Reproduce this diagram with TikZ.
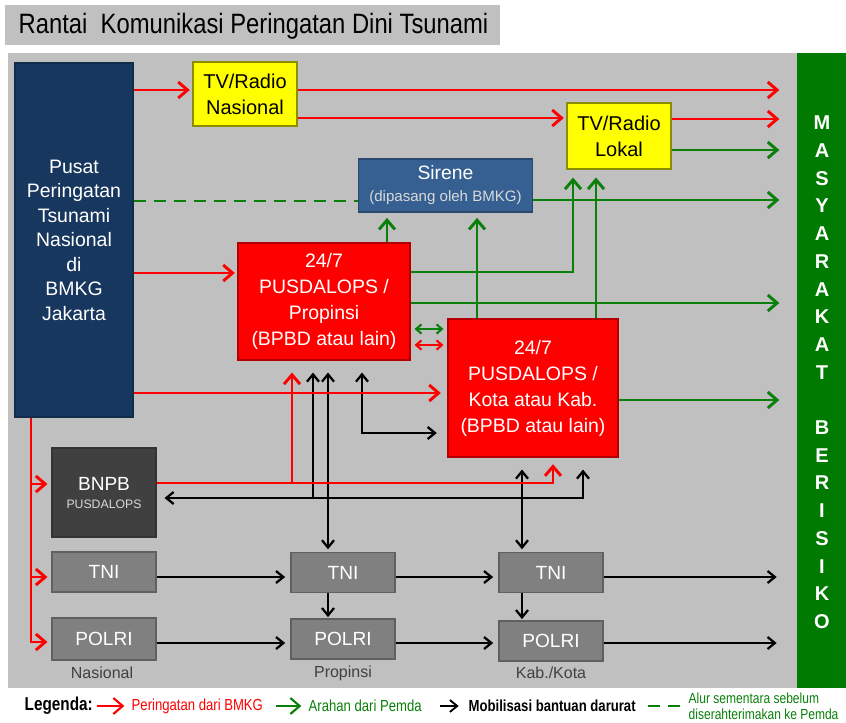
\documentclass[tikz,border=0pt]{standalone}
\usepackage{fontspec}
\setmainfont{Liberation Sans}
\newfontfamily\narrowfont[FakeStretch=0.82]{Liberation Sans}
\newfontfamily\titlefont[FakeStretch=0.85]{Liberation Sans}
\usetikzlibrary{arrows.meta, positioning, calc}

\definecolor{panelgray}{RGB}{192,192,192}
\definecolor{bmkgblue}{RGB}{23,55,94}
\definecolor{sireneblue}{RGB}{54,96,146}
\definecolor{tvyellow}{RGB}{255,255,0}
\definecolor{pusred}{RGB}{255,0,0}
\definecolor{darkbox}{RGB}{64,64,64}
\definecolor{midbox}{RGB}{128,128,128}
\definecolor{pemdagreen}{RGB}{10,128,10}
\definecolor{bargreen}{RGB}{0,122,0}
\definecolor{subgray}{RGB}{217,217,217}

\tikzset{
    box/.style={rectangle, inner sep=0pt, align=center, line width=0.8pt},
    boxB/.style={box, fill=bmkgblue, draw=bmkgblue!80!black, text=white},
    boxS/.style={box, fill=sireneblue, draw=sireneblue!75!black, text=white},
    boxY/.style={box, fill=tvyellow, draw=tvyellow!55!black, text=black, minimum width=78pt,
        font=\fontsize{15}{19.5}\selectfont},
    boxR/.style={box, fill=pusred, draw=pusred!70!black, text=white,
        font=\fontsize{14.6}{19.5}\selectfont},
    boxD/.style={box, fill=darkbox, draw=darkbox!80!black, text=white, minimum width=78pt},
    boxM/.style={box, fill=midbox, draw=midbox!75!black, text=white, minimum width=78pt,
        minimum height=30pt, font=\fontsize{14.3}{16}\selectfont},
    lvl/.style={text=darkbox, font=\fontsize{12}{14}\selectfont},
    lineR/.style={draw=pusred, line width=2.2pt, >={Straight Barb[length=7pt,width=12pt]}, ->, shorten >=2pt},
    lineG/.style={draw=pemdagreen, line width=2.2pt, >={Straight Barb[length=7pt,width=12pt]}, ->, shorten >=2pt},
    lineK/.style={draw=black, line width=1.7pt, >={Straight Barb[length=5.5pt,width=9pt]}, ->, shorten >=4pt},
    lineD/.style={draw=pemdagreen, line width=2.2pt, dash pattern=on 9pt off 6pt},
    lineS/.style={line width=1.6pt, >={Straight Barb[length=4pt,width=7pt]}, <->, shorten >=3pt, shorten <=3pt},
    legtxt/.style={anchor=west, font=\narrowfont\fontsize{12}{12}\selectfont}
}

\begin{document}
\begin{tikzpicture}[x=0.75pt, y=-0.75pt]
    \useasboundingbox (0,0) rectangle (846,722);
    \fill[white] (0,0) rectangle (846,722);
    % title and background
    \fill[panelgray] (5,5) rectangle (500,45);
    \node[anchor=west, font=\titlefont\fontsize{21}{24}\selectfont] (title) at (14,26)
        {Rantai\ \ Komunikasi Peringatan Dini Tsunami};
    \fill[panelgray] (8,53) rectangle (797,688);
    \fill[bargreen] (797,53) rectangle (846,688);
    \foreach \ch [count=\i from 0] in {M,A,S,Y,A,R,A,K,A,T,{},B,E,R,I,S,I,K,O}
        \node[text=white, font=\bfseries\fontsize{15}{15}\selectfont] (ms\i) at (822,123+27.7*\i) {\ch};
    \coordinate (edge) at (782,0);
    \coordinate (nbus) at (31,0);

    % boxes
    \node[boxB, minimum width=88.5pt, minimum height=265.5pt, font=\fontsize{14.6}{18.4}\selectfont]
        (bmkg) at (74,240) {Pusat\\Peringatan\\Tsunami\\Nasional\\di\\BMKG\\Jakarta};
    \node[boxY, minimum height=48pt] (tvnas) at (245,94) {TV/Radio\\Nasional};
    \node[boxY, minimum height=49.5pt] (tvlok) at (619,136) {TV/Radio\\Lokal};
    \node[boxS, minimum width=131pt, minimum height=39.75pt, font=\fontsize{14.5}{16.5}\selectfont]
        (sirene) at (445.5,185.5) {Sirene\\{\fontsize{11.3}{16.5}\selectfont\color{subgray}(dipasang oleh BMKG)}};
    \node[boxR, minimum width=129pt, minimum height=87.75pt] (prop) at (324,301.5)
        {24/7\\PUSDALOPS /\\Propinsi\\(BPBD atau lain)};
    \node[boxR, minimum width=127.5pt, minimum height=103.5pt] (kota) at (533,388)
        {24/7\\PUSDALOPS /\\Kota atau Kab.\\(BPBD atau lain)};
    \node[boxD, minimum height=66.75pt, font=\fontsize{14.3}{13.5}\selectfont] (bnpb) at (104,492.5)
        {BNPB\\{\fontsize{9.2}{13.5}\selectfont\color{subgray}PUSDALOPS}};
    \node[boxM] (tni1) at (104,572) {TNI};
    \node[boxM, minimum height=31.5pt] (polri1) at (104,639) {POLRI};
    \node[boxM] (tni2) at (343,572.5) {TNI};
    \node[boxM] (polri2) at (343,639) {POLRI};
    \node[boxM] (tni3) at (551,572.5) {TNI};
    \node[boxM] (polri3) at (551,641) {POLRI};
    \node[lvl] (lnas) at (102,673) {Nasional};
    \node[lvl] (lprop) at (343,673) {Propinsi};
    \node[lvl] (lkab) at (551,673) {Kab./Kota};

    % black: mobilisasi
    \draw[lineK] (tni1.east |- 0,577) -- (tni2.west |- 0,577);
    \draw[lineK] (tni2.east |- 0,577) -- (tni3.west |- 0,577);
    \draw[lineK] (tni3.east |- 0,577) -- (edge |- 0,577);
    \draw[lineK] (polri1.east |- 0,643) -- (polri2.west |- 0,643);
    \draw[lineK] (polri2.east |- 0,643) -- (polri3.west |- 0,643);
    \draw[lineK] (polri3.east |- 0,643) -- (edge |- 0,643);
    \draw[lineK, shorten >=1pt] (tni2.south -| 328,0) -- (polri2.north -| 328,0);
    \draw[lineK, shorten >=1pt] (tni3.south -| 522,0) -- (polri3.north -| 522,0);
    \draw[lineK, <->, shorten <=9pt, shorten >=2pt] (prop.south -| 328,0) -- (tni2.north -| 328,0);
    \draw[lineK, <->, shorten <=9pt, shorten >=2pt] (kota.south -| 522,0) -- (tni3.north -| 522,0);
    \draw[lineK, <->, shorten <=9pt, shorten >=6pt] (kota.south -| 583,0) |- (bnpb.east |- 0,498);
    \draw[lineK, shorten >=9pt] (313,498) -- (prop.south -| 313,0);
    \draw[lineK, <->, shorten <=9pt, shorten >=8pt] (prop.south -| 362,0) |- (kota.west |- 0,433);

    % red: peringatan
    \draw[lineR] (bmkg.east |- 0,90) -- (tvnas.west |- 0,90);
    \draw[lineR] (tvnas.east |- 0,90) -- (edge |- 0,90);
    \draw[lineR] (tvnas.east |- 0,118) -- (tvlok.west |- 0,118);
    \draw[lineR] (tvlok.east |- 0,119) -- (edge |- 0,119);
    \draw[lineR] (bmkg.east |- 0,273) -- (prop.west |- 0,273);
    \draw[lineR, shorten >=5pt] (bmkg.east |- 0,393) -- (kota.west |- 0,393);
    \draw[lineR, shorten >=3pt] (bmkg.south -| nbus) |- (polri1.west |- 0,642);
    \draw[lineR, shorten >=3pt] (nbus |- 0,484) -- (bnpb.west |- 0,484);
    \draw[lineR, shorten >=3pt] (nbus |- 0,577) -- (tni1.west |- 0,577);
    \draw[lineR, shorten >=5pt] (bnpb.east |- 0,483) -| (kota.south -| 553,0);
    \draw[lineR, shorten >=9pt] (292,483) -- (prop.south -| 292,0);
    \draw[lineS, draw=pusred] (prop.east |- 0,345) -- (kota.west |- 0,345);

    % green: arahan
    \draw[lineD] (bmkg.east |- 0,201) -- (sirene.west |- 0,201);
    \draw[lineG] (sirene.east |- 0,200) -- (edge |- 0,200);
    \draw[lineG, shorten >=4pt] (prop.north -| 387,0) -- (sirene.south -| 387,0);
    \draw[lineG, shorten >=4pt] (kota.north -| 477,0) -- (sirene.south -| 477,0);
    \draw[lineG, shorten >=6pt] (prop.east |- 0,272) -| (tvlok.south -| 573,0);
    \draw[lineG] (prop.east |- 0,303) -- (edge |- 0,303);
    \draw[lineG, shorten >=6pt] (kota.north -| 596,0) -- (tvlok.south -| 596,0);
    \draw[lineG] (tvlok.east |- 0,150) -- (edge |- 0,150);
    \draw[lineG] (kota.east |- 0,400) -- (edge |- 0,400);
    \draw[lineS, draw=pemdagreen] (prop.east |- 0,329) -- (kota.west |- 0,329);

    % legend
    \node[legtxt, font=\narrowfont\bfseries\fontsize{14}{14}\selectfont] (leg) at (20,706) {Legenda:};
    \node[legtxt, text=pusred] (lgR) at (127,706) {Peringatan dari BMKG};
    \node[legtxt, text=pemdagreen] (lgG) at (304,706) {Arahan dari Pemda};
    \node[legtxt, font=\narrowfont\bfseries\fontsize{12}{12}\selectfont] (lgK) at (464,706) {Mobilisasi bantuan darurat};
    \node[legtxt, text=pemdagreen, align=left, font=\narrowfont\fontsize{11}{12}\selectfont] (lgD) at (684,706)
        {Alur sementara sebelum\\diserahterimakan ke Pemda};
    \draw[lineR, line width=1.6pt] ([xshift=-22.5pt]lgR.west) -- (lgR.west);
    \draw[lineG, line width=1.6pt] ([xshift=-21pt]lgG.west) -- (lgG.west);
    \draw[lineK, line width=1.4pt] ([xshift=-18pt]lgK.west) -- (lgK.west);
    \draw[lineD] ([xshift=-27pt]lgD.west) -- ([xshift=-2pt]lgD.west);
\end{tikzpicture}
\end{document}
